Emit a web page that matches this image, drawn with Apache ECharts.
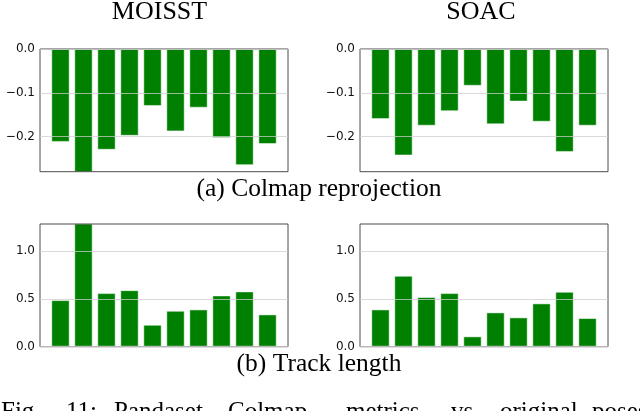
<!DOCTYPE html>
<html>
<head>
<meta charset="utf-8">
<script src="https://cdn.jsdelivr.net/npm/echarts@6/dist/echarts.min.js"></script>
<style>
html,body{margin:0;padding:0;background:#fff;}
#chart{width:640px;height:411px;}
</style>
</head>
<body>
<div id="chart"></div>
<script>
// ---- data ----
const positions = [0, 1, 2, 3, 4, 5, 6, 7, 8, 9];
const moisstReproj = [-0.212, -0.29, -0.230, -0.198, -0.130, -0.188, -0.134, -0.203, -0.265, -0.217];
const soacReproj   = [-0.160, -0.243, -0.175, -0.142, -0.084, -0.172, -0.120, -0.166, -0.235, -0.175];
const moisstTrack  = [0.486, 1.30, 0.559, 0.590, 0.229, 0.375, 0.389, 0.535, 0.577, 0.337];
const soacTrack    = [0.389, 0.740, 0.518, 0.559, 0.108, 0.358, 0.306, 0.452, 0.573, 0.299];
const reprojTicks = [-0.2, -0.1, 0.0];
const trackTicks  = [0.0, 0.5, 1.0];
const columnTitles = ['MOISST', 'SOAC'];
const captions = ['(a) Colmap reprojection', '(b) Track length'];
const figWords = ['Fig.', '11:', 'Pandaset', 'Colmap', 'metrics', 'vs', 'original', 'poses'];

// ---- layout ----
const grids = [
  {left: 40,  top: 49,  width: 248, height: 122.7},
  {left: 360, top: 49,  width: 248, height: 122.7},
  {left: 40,  top: 224, width: 248, height: 122.7},
  {left: 360, top: 224, width: 248, height: 122.7}
];
const yRanges = [[-0.28, 0], [-0.28, 0], [0, 1.28], [0, 1.28]];
const yTicks = [reprojTicks, reprojTicks, trackTicks, trackTicks];
const seriesData = [moisstReproj, soacReproj, moisstTrack, soacTrack];
const figWordX = [1, 66, 114, 228, 346, 451, 500, 592];

function fmt(v) {
  const s = Math.abs(v).toFixed(1);
  return v < -1e-9 ? '\u2212' + s : s;
}

const option = {
  animation: false,
  backgroundColor: '#ffffff',
  grid: grids.map(g => Object.assign({
    show: true, borderColor: '#4d4d4d', borderWidth: 1,
    backgroundColor: 'transparent', z: 3, containLabel: false
  }, g)),
  xAxis: grids.map((g, i) => ({
    type: 'value', gridIndex: i, min: -0.89, max: 9.89,
    axisLine: {show: false}, axisTick: {show: false},
    axisLabel: {show: false}, splitLine: {show: false}
  })),
  yAxis: grids.map((g, i) => ({
    type: 'value', gridIndex: i, min: yRanges[i][0], max: yRanges[i][1], z: 4,
    axisLine: {show: false},
    axisTick: {show: false, customValues: yTicks[i]},
    axisLabel: {
      customValues: yTicks[i], formatter: fmt, margin: 5,
      fontFamily: 'DejaVu Sans', fontSize: 12, color: '#111'
    },
    splitLine: {show: true, lineStyle: {color: 'rgba(205,205,205,0.75)', width: 1}}
  })),
  series: seriesData.map((arr, i) => ({
    type: 'bar', xAxisIndex: i, yAxisIndex: i,
    barWidth: 18.4, clip: true,
    itemStyle: {color: '#008000', borderColor: 'rgba(255,255,255,0.5)', borderWidth: 1},
    data: positions.map((p, k) => [p, arr[k]])
  })),
  graphic: [
    {type: 'text', x: 159.5, y: 12, style: {text: columnTitles[0], font: '26px "Liberation Serif"', fill: '#000', textAlign: 'center', textVerticalAlign: 'middle', verticalAlign: 'middle'}},
    {type: 'text', x: 481, y: 12, style: {text: columnTitles[1], font: '26px "Liberation Serif"', fill: '#000', textAlign: 'center', textVerticalAlign: 'middle', verticalAlign: 'middle'}},
    {type: 'text', x: 319, y: 189, style: {text: captions[0], font: '25.5px "Liberation Serif"', fill: '#000', textAlign: 'center', textVerticalAlign: 'middle', verticalAlign: 'middle'}},
    {type: 'text', x: 319, y: 364, style: {text: captions[1], font: '25.5px "Liberation Serif"', fill: '#000', textAlign: 'center', textVerticalAlign: 'middle', verticalAlign: 'middle'}}
  ].concat(figWords.map((w, k) => ({
    type: 'text', x: figWordX[k], y: 412,
    style: {text: w, font: '25px "Liberation Serif"', fill: '#000', textAlign: 'left', textVerticalAlign: 'middle', verticalAlign: 'middle'}
  })))
};

const chart = echarts.init(document.getElementById('chart'), null, {renderer: 'canvas'});
chart.setOption(option);
</script>
</body>
</html>
